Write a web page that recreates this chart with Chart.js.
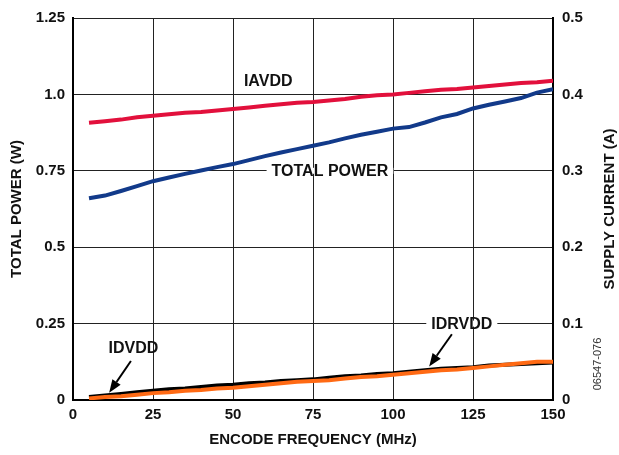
<!DOCTYPE html>
<html>
<head>
<meta charset="utf-8">
<script src="https://cdn.jsdelivr.net/npm/chart.js@4.4.0/dist/chart.umd.min.js"></script>
<style>
  html, body { margin: 0; padding: 0; background: #fff; }
  #wrap { width: 619px; height: 455px; }
</style>
</head>
<body>
<div id="wrap"><canvas id="power-chart" width="619" height="455"></canvas></div>
<script>
// values
const freqMHz = [5, 10, 15, 20, 25, 30, 35, 40, 45, 50, 55, 60, 65, 70, 75,
                 80, 85, 90, 95, 100, 105, 110, 115, 120, 125, 130, 135, 140, 145, 150];
const totalPowerW = [0.660, 0.669, 0.684, 0.700, 0.716, 0.728, 0.740, 0.751, 0.762, 0.772,
                     0.785, 0.798, 0.810, 0.821, 0.832, 0.843, 0.856, 0.868, 0.878, 0.888,
                     0.893, 0.908, 0.925, 0.936, 0.954, 0.966, 0.977, 0.988, 1.006, 1.017];
const iavddA = [0.363, 0.365, 0.367, 0.370, 0.372, 0.374, 0.376, 0.377, 0.379, 0.381,
                0.383, 0.385, 0.387, 0.389, 0.390, 0.392, 0.394, 0.397, 0.399, 0.400,
                0.402, 0.404, 0.406, 0.407, 0.409, 0.411, 0.413, 0.415, 0.416, 0.418];
const idvddA = [0.004, 0.006, 0.008, 0.010, 0.012, 0.014, 0.015, 0.017, 0.019, 0.020,
                0.022, 0.023, 0.025, 0.026, 0.027, 0.029, 0.031, 0.032, 0.034, 0.035,
                0.037, 0.039, 0.041, 0.042, 0.043, 0.045, 0.046, 0.047, 0.048, 0.049];
const idrvddA = [0.002, 0.004, 0.005, 0.007, 0.009, 0.010, 0.012, 0.013, 0.015, 0.016,
                 0.018, 0.020, 0.022, 0.024, 0.025, 0.026, 0.028, 0.030, 0.031, 0.033,
                 0.035, 0.037, 0.039, 0.040, 0.042, 0.044, 0.046, 0.048, 0.050, 0.050];

const xTickLabels = ['0', '25', '50', '75', '100', '125', '150'];
const leftTickLabels = ['0', '0.25', '0.5', '0.75', '1.0', '1.25'];
const rightTickLabels = ['0', '0.1', '0.2', '0.3', '0.4', '0.5'];

const FONT = '"Liberation Sans", Arial, Helvetica, sans-serif';

function pts(ys) {
    return freqMHz.map((f, i) => ({ x: f, y: ys[i] }));
}

// labels and arrows, placed in data units
const annotations = {
    iavdd:  { text: 'IAVDD', x: 61, y: 1.044, axis: 'y' },
    total:  { text: 'TOTAL POWER', x: 80.3, y: 0.75, axis: 'y', boxed: true },
    idrvdd: { text: 'IDRVDD', x: 121.5, y: 0.1, axis: 'y1', boxed: true },
    idvdd:  { text: 'IDVDD', x: 18.9, y: 0.068, axis: 'y1' }
};
const arrows = [
    { from: [118.4, 0.086], to: [111.3, 0.044] },
    { from: [18.1, 0.051], to: [11.3, 0.0095] }
];

const annotationPlugin = {
    id: 'figureText',
    afterDatasetsDraw(chart) {
        const ctx = chart.ctx;
        const xs = chart.scales.x;
        const area = chart.chartArea;
        ctx.save();

        ctx.font = 'bold 16px ' + FONT;
        ctx.textAlign = 'center';
        ctx.textBaseline = 'middle';
        Object.values(annotations).forEach(a => {
            const px = xs.getPixelForValue(a.x);
            const py = chart.scales[a.axis].getPixelForValue(a.y);
            if (a.boxed) {
                const w = ctx.measureText(a.text).width;
                ctx.fillStyle = '#fff';
                ctx.fillRect(px - w / 2 - 5, py - 3, w + 10, 6);
            }
            ctx.fillStyle = '#111';
            ctx.fillText(a.text, px, py + 1);
        });

        // arrows
        ctx.strokeStyle = '#000';
        ctx.fillStyle = '#000';
        ctx.lineWidth = 2;
        arrows.forEach(ar => {
            const x1 = xs.getPixelForValue(ar.from[0]);
            const y1 = chart.scales.y1.getPixelForValue(ar.from[1]);
            const x2 = xs.getPixelForValue(ar.to[0]);
            const y2 = chart.scales.y1.getPixelForValue(ar.to[1]);
            const ang = Math.atan2(y2 - y1, x2 - x1);
            const len = 13, half = 5;
            const bx = x2 - len * Math.cos(ang), by = y2 - len * Math.sin(ang);
            ctx.beginPath();
            ctx.moveTo(x1, y1);
            ctx.lineTo(bx, by);
            ctx.stroke();
            ctx.beginPath();
            ctx.moveTo(x2, y2);
            ctx.lineTo(bx + half * Math.sin(ang), by - half * Math.cos(ang));
            ctx.lineTo(bx - half * Math.sin(ang), by + half * Math.cos(ang));
            ctx.closePath();
            ctx.fill();
        });

        // axis titles
        ctx.fillStyle = '#111';
        ctx.font = 'bold 15px ' + FONT;
        ctx.fillText('ENCODE FREQUENCY (MHz)', (area.left + area.right) / 2, 440);

        ctx.save();
        ctx.translate(17, (area.top + area.bottom) / 2);
        ctx.rotate(-Math.PI / 2);
        ctx.fillText('TOTAL POWER (W)', 0, 0);
        ctx.restore();

        ctx.save();
        ctx.translate(610, (area.top + area.bottom) / 2);
        ctx.rotate(-Math.PI / 2);
        ctx.fillText('SUPPLY CURRENT (A)', 0, 0);
        ctx.restore();

        ctx.save();
        ctx.font = '11px ' + FONT;
        ctx.fillStyle = '#333';
        ctx.translate(598, 364);
        ctx.rotate(-Math.PI / 2);
        ctx.fillText('06547-076', 0, 0);
        ctx.restore();

        ctx.restore();
    }
};

const ctx = document.getElementById('power-chart').getContext('2d');
const powerChart = new Chart(ctx, {
    type: 'line',
    data: {
        datasets: [
            { label: 'IAVDD', data: pts(iavddA), yAxisID: 'y1', borderColor: '#E2103C', order: 2 },
            { label: 'TOTAL POWER', data: pts(totalPowerW), yAxisID: 'y', borderColor: '#123A8A', order: 1 },
            { label: 'IDVDD', data: pts(idvddA), yAxisID: 'y1', borderColor: '#000000', order: 4 },
            { label: 'IDRVDD', data: pts(idrvddA), yAxisID: 'y1', borderColor: '#FF6A14', order: 3 }
        ]
    },
    options: {
        responsive: false,
        animation: false,
        layout: { padding: { top: 17, left: 0, right: 0, bottom: 0 } },
        elements: {
            line: { borderWidth: 4, tension: 0, borderCapStyle: 'butt' },
            point: { radius: 0 }
        },
        plugins: {
            legend: { display: false },
            tooltip: { enabled: false }
        },
        scales: {
            x: {
                type: 'linear',
                min: 0, max: 150,
                afterFit: s => { s.height = 55; },
                afterBuildTicks: s => { s.ticks = xTickLabels.map(v => ({ value: Number(v) })); },
                ticks: {
                    padding: 6,
                    color: '#111',
                    font: { family: FONT, size: 15, weight: 'bold' },
                    callback: (v, i) => xTickLabels[i]
                },
                grid: { color: '#222', lineWidth: 1, drawTicks: false },
                border: { color: '#000', width: 2 }
            },
            y: {
                position: 'left',
                min: 0, max: 1.25,
                afterFit: s => { s.width = 73; },
                afterBuildTicks: s => { s.ticks = leftTickLabels.map(v => ({ value: Number(v) })); },
                ticks: {
                    padding: 8,
                    color: '#111',
                    font: { family: FONT, size: 15, weight: 'bold' },
                    callback: (v, i) => leftTickLabels[i]
                },
                grid: { color: '#222', lineWidth: 1, drawTicks: false },
                border: { color: '#000', width: 2 }
            },
            y1: {
                position: 'right',
                min: 0, max: 0.5,
                afterFit: s => { s.width = 66; },
                afterBuildTicks: s => { s.ticks = rightTickLabels.map(v => ({ value: Number(v) })); },
                ticks: {
                    padding: 9,
                    color: '#111',
                    font: { family: FONT, size: 15, weight: 'bold' },
                    callback: (v, i) => rightTickLabels[i]
                },
                grid: { drawOnChartArea: false, drawTicks: false },
                border: { color: '#000', width: 2 }
            }
        }
    },
    plugins: [annotationPlugin]
});
</script>
</body>
</html>
